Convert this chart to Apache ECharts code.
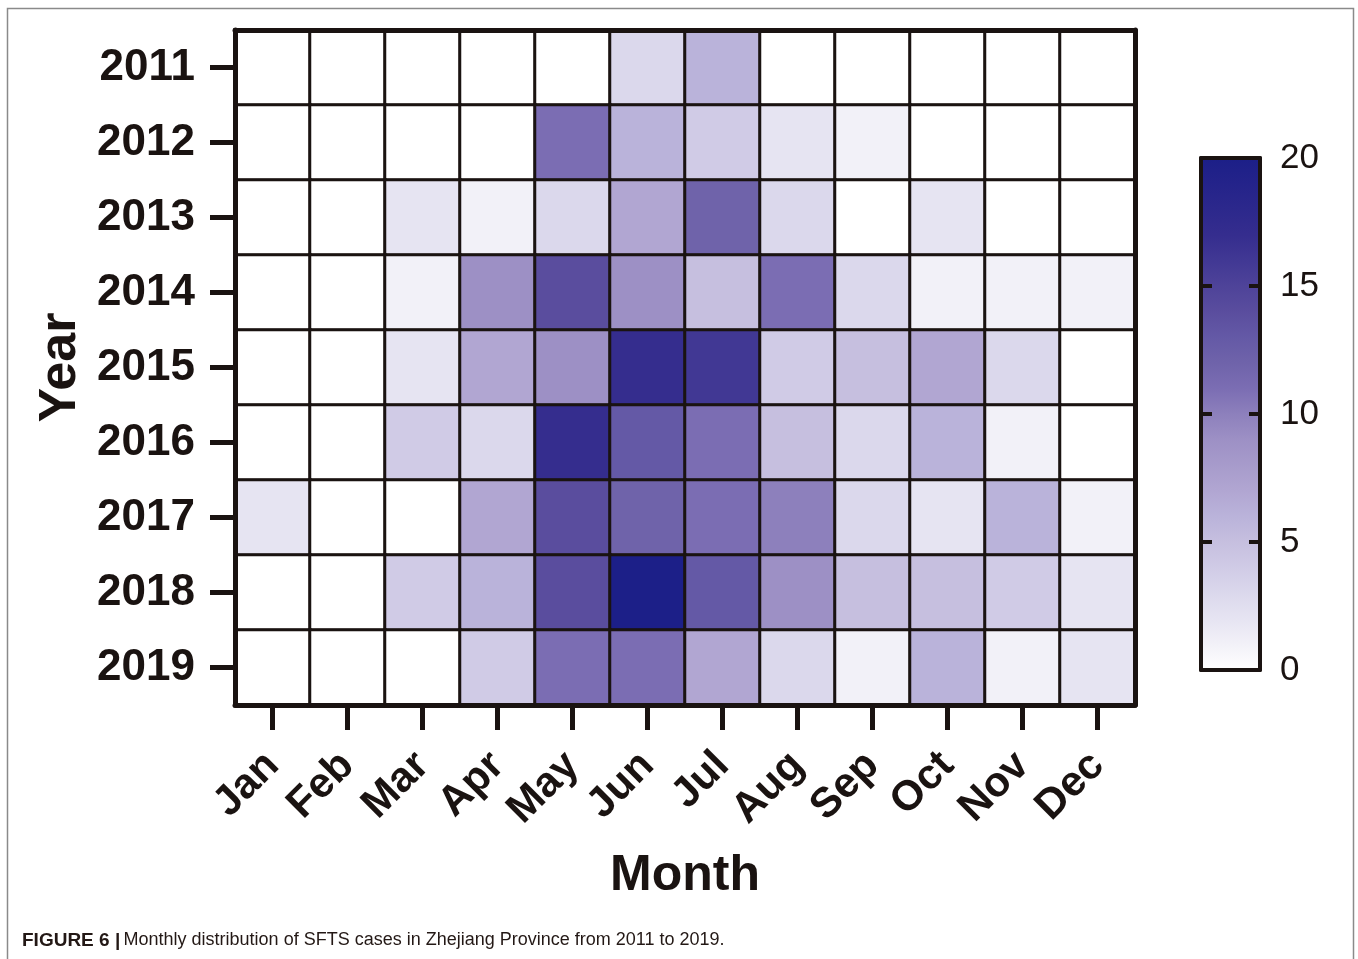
<!DOCTYPE html>
<html>
<head>
<meta charset="utf-8">
<title>Monthly distribution of SFTS cases</title>
<script src="https://cdn.jsdelivr.net/npm/echarts@6/dist/echarts.min.js"></script>
<style>
  html, body { margin: 0; padding: 0; background: #fff; }
  #chart { width: 1358px; height: 959px; }
</style>
</head>
<body>
<div id="chart"></div>
<script>
// months on x, years on y (2011 on top)
const months = ["Jan", "Feb", "Mar", "Apr", "May", "Jun", "Jul", "Aug", "Sep", "Oct", "Nov", "Dec"];
const years = ["2011", "2012", "2013", "2014", "2015", "2016", "2017", "2018", "2019"];

// cases per month, one array per year
const y2011 = [0, 0, 0, 0, 0, 3, 6, 0, 0, 0, 0, 0];
const y2012 = [0, 0, 0, 0, 11, 6, 4, 2, 1, 0, 0, 0];
const y2013 = [0, 0, 2, 1, 3, 7, 12, 3, 0, 2, 0, 0];
const y2014 = [0, 0, 1, 9, 14, 9, 5, 11, 3, 1, 1, 1];
const y2015 = [0, 0, 2, 7, 9, 17, 16, 4, 5, 7, 3, 0];
const y2016 = [0, 0, 4, 3, 17, 13, 11, 5, 3, 6, 1, 0];
const y2017 = [2, 0, 0, 7, 14, 12, 11, 10, 3, 2, 6, 1];
const y2018 = [0, 0, 4, 6, 14, 20, 13, 9, 5, 5, 4, 2];
const y2019 = [0, 0, 0, 4, 11, 11, 7, 3, 1, 6, 1, 2];
const rows = [y2011, y2012, y2013, y2014, y2015, y2016, y2017, y2018, y2019];

// colour bar range and its tick labels
const scaleMin = 0;
const scaleMax = 20;
const scaleStep = 5;

const ink = "#1a1311";
const font = "Liberation Sans, Arial, sans-serif";

const palette = [
  "#ffffff", "#f2f1f8", "#e6e4f2", "#dbd8ec", "#d0cbe6", "#c6bfdf",
  "#bab3da", "#b1a6d2", "#a79bcb", "#9d90c5", "#8d80bc", "#7b6db3",
  "#6f63aa", "#6459a6", "#5a4d9e", "#4e4399", "#413894", "#352d8e",
  "#2c288c", "#24238a", "#1c1f88"
];

const cells = [];
rows.forEach((r, yi) => {
  r.forEach((v, xi) => cells.push([xi, yi, v]));
});

// colour bar box (same as grid 1)
const bar = { left: 1201, top: 158, width: 59, height: 512 };

// gradient for the colour bar, top = max
const barStops = palette.map((c, i) => ({ offset: 1 - i / (palette.length - 1), color: c })).reverse();

const myChart = echarts.init(document.getElementById("chart"));

const plainAxis = (extra) => Object.assign({
  axisTick: { show: false },
  axisLabel: { show: false },
  splitLine: { show: false },
  z: 10
}, extra);

const barLine = { show: true, onZero: false, lineStyle: { color: ink, width: 4 } };
const barTick = { show: true, inside: true, length: 11, lineStyle: { color: ink, width: 4 } };

const option = {
  backgroundColor: "#fff",
  animation: false,
  textStyle: { fontFamily: font, color: ink },
  grid: [
    { left: 235, top: 30, width: 900, height: 675 },
    { left: bar.left, top: bar.top, width: bar.width, height: bar.height }
  ],
  xAxis: [
    {
      type: "category",
      data: months,
      gridIndex: 0,
      position: "bottom",
      z: 10,
      name: "Month",
      nameLocation: "middle",
      nameGap: 146,
      nameTextStyle: { fontSize: 50, fontWeight: "bold", color: ink },
      axisLine: { show: true, lineStyle: { color: ink, width: 5 } },
      axisTick: { show: true, alignWithLabel: true, length: 25, lineStyle: { color: ink, width: 5 } },
      axisLabel: { rotate: 45, margin: 54, fontSize: 42, fontWeight: "bold", color: ink, interval: 0 },
      splitLine: { show: false }
    },
    plainAxis({
      type: "category",
      data: months,
      gridIndex: 0,
      position: "top",
      axisLine: { show: true, lineStyle: { color: ink, width: 5 } }
    }),
    plainAxis({
      type: "value",
      gridIndex: 1,
      min: 0,
      max: 1,
      position: "bottom",
      axisLine: barLine
    }),
    plainAxis({
      type: "value",
      gridIndex: 1,
      min: 0,
      max: 1,
      position: "top",
      axisLine: barLine
    })
  ],
  yAxis: [
    {
      type: "category",
      data: years,
      gridIndex: 0,
      inverse: true,
      position: "left",
      z: 10,
      name: "Year",
      nameLocation: "middle",
      nameGap: 138,
      nameRotate: 90,
      nameTextStyle: { fontSize: 52, fontWeight: "bold", color: ink },
      axisLine: { show: true, lineStyle: { color: ink, width: 5 } },
      axisTick: { show: true, alignWithLabel: true, length: 25, lineStyle: { color: ink, width: 5 } },
      axisLabel: { margin: 40, fontSize: 44, fontWeight: "bold", color: ink },
      splitLine: { show: false }
    },
    plainAxis({
      type: "category",
      data: years,
      gridIndex: 0,
      inverse: true,
      position: "right",
      axisLine: { show: true, lineStyle: { color: ink, width: 5 } }
    }),
    {
      type: "value",
      gridIndex: 1,
      min: scaleMin,
      max: scaleMax,
      interval: scaleStep,
      position: "right",
      z: 10,
      axisLine: barLine,
      axisTick: barTick,
      axisLabel: { show: true, margin: 20, fontSize: 35, color: ink, fontWeight: "normal" },
      splitLine: { show: false }
    },
    {
      type: "value",
      gridIndex: 1,
      min: scaleMin,
      max: scaleMax,
      interval: scaleStep,
      position: "left",
      z: 10,
      axisLine: barLine,
      axisTick: barTick,
      axisLabel: { show: false },
      splitLine: { show: false }
    }
  ],
  visualMap: {
    type: "continuous",
    show: false,
    min: scaleMin,
    max: scaleMax,
    seriesIndex: 0,
    inRange: { color: palette }
  },
  series: [
    {
      type: "heatmap",
      xAxisIndex: 0,
      yAxisIndex: 0,
      data: cells,
      itemStyle: { borderColor: ink, borderWidth: 3 },
      emphasis: { disabled: true }
    }
  ],
  graphic: [
    {
      type: "rect",
      z: -10,
      shape: { x: 7.5, y: 8.5, width: 1346, height: 1000 },
      style: { fill: "none", stroke: "#8a8a8a", lineWidth: 1.5 },
      silent: true
    },
    {
      type: "rect",
      z: -5,
      silent: true,
      shape: { x: bar.left, y: bar.top, width: bar.width, height: bar.height },
      style: {
        fill: new echarts.graphic.LinearGradient(0, 0, 0, 1, barStops)
      }
    },
    {
      type: "text",
      left: 22,
      top: 931,
      style: {
        text: "{b|FIGURE 6 |} {r|Monthly distribution of SFTS cases in Zhejiang Province from 2011 to 2019.}",
        rich: {
          b: { fontFamily: font, fontWeight: "bold", fontSize: 19, fill: "#231815" },
          r: { fontFamily: font, fontSize: 18, fill: "#231815" }
        }
      }
    }
  ]
};

myChart.setOption(option);
</script>
</body>
</html>
